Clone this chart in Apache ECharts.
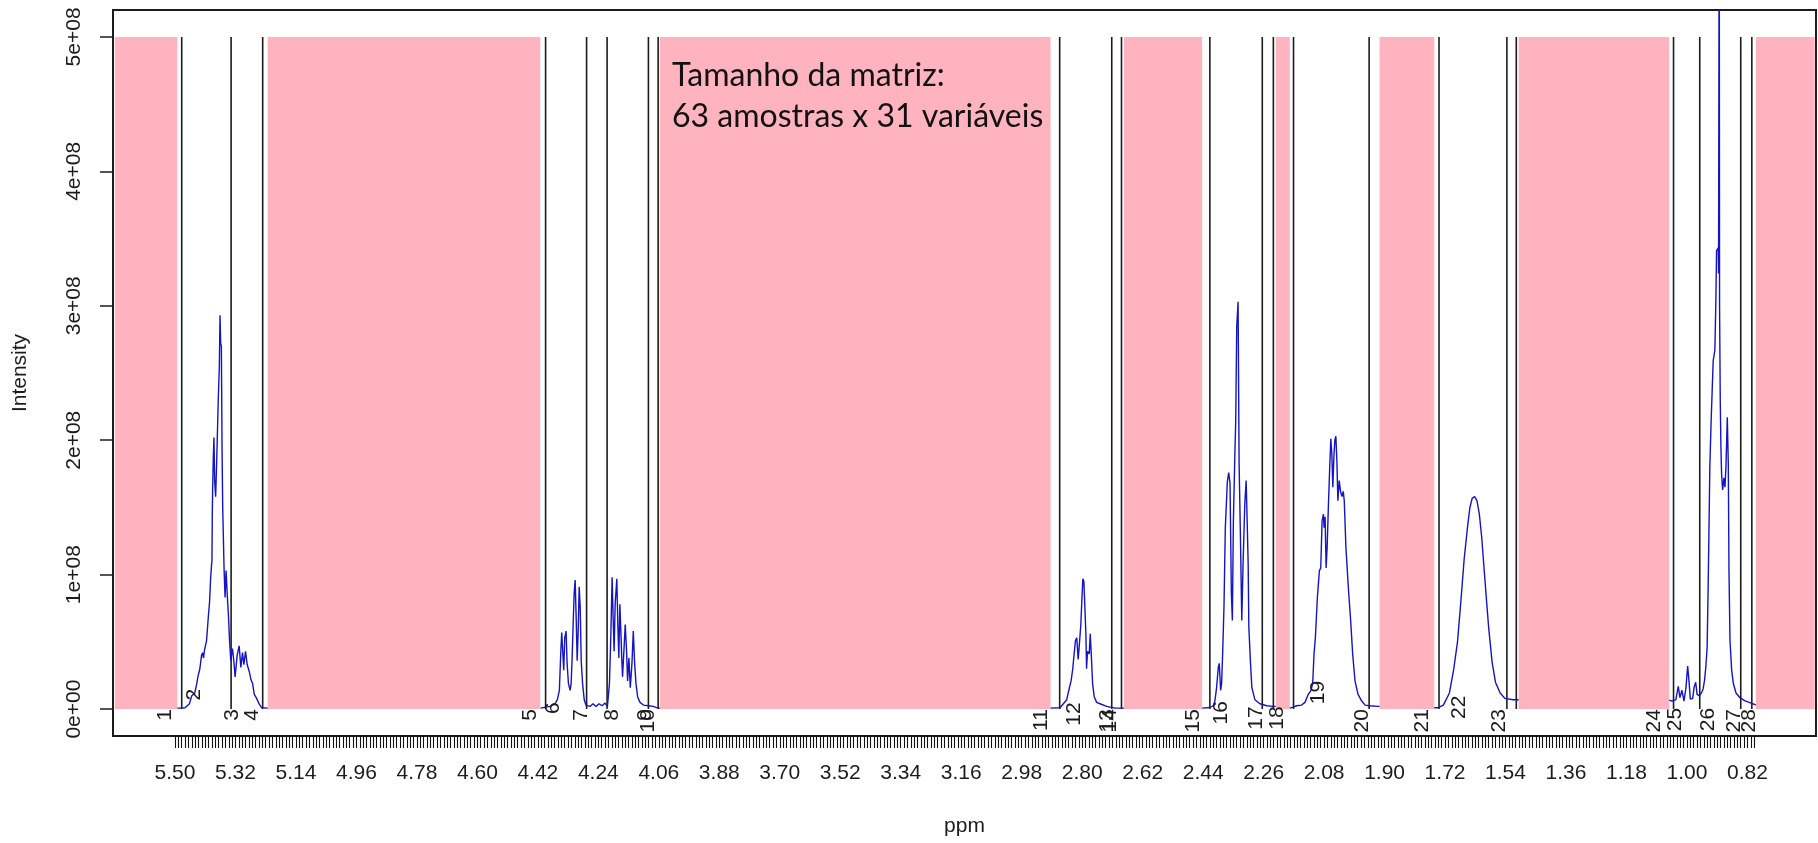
<!DOCTYPE html>
<html>
<head>
<meta charset="utf-8">
<script src="https://cdn.jsdelivr.net/npm/echarts@6/dist/echarts.min.js"></script>
<style>
  html, body { margin: 0; padding: 0; background: #fff; }
  #chart { width: 1818px; height: 843px; }
</style>
</head>
<body>
<div id="chart"></div>
<script>
// ---- Axis tick labels ----
const ppmTickLabels = ['5.50','5.32','5.14','4.96','4.78','4.60','4.42','4.24','4.06','3.88','3.70','3.52','3.34',
  '3.16','2.98','2.80','2.62','2.44','2.26','2.08','1.90','1.72','1.54','1.36','1.18','1.00','0.82'];
const intensityTicks = [0, 1, 2, 3, 4, 5];              // intensity in units of 1e8
const intensityTickLabels = ['0e+00','1e+08','2e+08','3e+08','4e+08','5e+08'];

// ---- Excluded spectral regions [ppm from, ppm to] ----
const excludedRegions = [
  [5.679, 5.493], [5.224, 4.413], [4.057, 2.894], [2.676, 2.443],
  [2.224, 2.182], [1.915, 1.752], [1.501, 1.053], [0.795, 0.620]
];

// ---- Bin boundaries (ppm) ----
const binEdges = [5.480, 5.333, 5.239, 4.397, 4.275, 4.214, 4.091, 4.062, 2.867, 2.712, 2.683,
  2.420, 2.264, 2.231, 2.171, 1.946, 1.738, 1.536, 1.508, 1.040, 0.962, 0.840, 0.807];

// ---- Bin numbers, their ppm position and the intensity their top end sits at ----
const binLabels = ['1','2','3','4','5','6','7','8','9','10','11','12','13','14',
  '15','16','17','18','19','20','21','22','23','24','25','26','27','28'];
const binLabelPpm = [5.528, 5.443, 5.330, 5.271, 4.443, 4.374, 4.290, 4.200, 4.101, 4.092, 2.922, 2.824, 2.727, 2.717,
  2.469, 2.385, 2.283, 2.220, 2.097, 1.967, 1.787, 1.677, 1.560, 1.098, 1.036, 0.938, 0.860, 0.815];
const binLabelLevel = [0, 0.15, 0, 0, 0, 0.05, 0, 0, 0, 0, 0, 0.05, 0, 0,
  0, 0.06, 0.02, 0.02, 0.21, 0, 0, 0.10, 0, 0, 0.01, 0.01, 0, 0];

// ---- Mean spectrum, [ppm, intensity (1e8)] per retained window ----
const specA = [[5.493,0.007],[5.480,0.007],[5.470,0.01],[5.457,0.04],[5.450,0.10],[5.445,0.09],[5.441,0.12],
  [5.436,0.18],[5.431,0.25],[5.426,0.30],[5.421,0.40],[5.418,0.42],[5.415,0.38],[5.412,0.44],[5.406,0.51],
  [5.401,0.68],[5.397,0.80],[5.394,0.97],[5.391,1.08],[5.390,1.10],[5.389,1.45],[5.388,1.63],[5.386,1.87],
  [5.384,2.02],[5.382,1.70],[5.379,1.58],[5.376,1.83],[5.371,2.32],[5.368,2.55],[5.366,2.93],[5.364,2.72],
  [5.362,2.70],[5.360,1.95],[5.358,1.50],[5.354,1.05],[5.351,0.83],[5.348,1.03],[5.344,0.83],[5.341,0.70],
  [5.338,0.53],[5.334,0.36],[5.331,0.42],[5.329,0.45],[5.325,0.36],[5.321,0.24],[5.315,0.40],[5.309,0.47],
  [5.304,0.31],[5.299,0.42],[5.295,0.33],[5.290,0.43],[5.285,0.33],[5.279,0.28],[5.274,0.22],[5.269,0.19],
  [5.264,0.11],[5.257,0.08],[5.250,0.04],[5.242,0.01],[5.224,0.007]];
const specB = [[4.412,0.007],[4.384,0.02],[4.369,0.04],[4.362,0.07],[4.356,0.14],[4.352,0.41],[4.349,0.57],
  [4.346,0.43],[4.343,0.29],[4.340,0.53],[4.336,0.58],[4.333,0.34],[4.329,0.19],[4.324,0.14],[4.321,0.19],
  [4.318,0.38],[4.315,0.63],[4.312,0.86],[4.309,0.96],[4.306,0.68],[4.303,0.36],[4.300,0.58],[4.297,0.91],
  [4.294,0.76],[4.291,0.36],[4.287,0.19],[4.282,0.07],[4.277,0.03],[4.265,0.02],[4.256,0.04],[4.247,0.02],
  [4.238,0.04],[4.229,0.025],[4.220,0.045],[4.213,0.02],[4.207,0.19],[4.203,0.53],[4.199,0.98],[4.196,0.68],
  [4.193,0.43],[4.190,0.78],[4.185,0.97],[4.182,0.63],[4.179,0.38],[4.176,0.78],[4.173,0.58],[4.170,0.36],
  [4.168,0.24],[4.164,0.43],[4.160,0.63],[4.156,0.43],[4.153,0.21],[4.149,0.38],[4.145,0.16],[4.140,0.34],
  [4.136,0.58],[4.132,0.34],[4.128,0.19],[4.123,0.09],[4.116,0.05],[4.106,0.03],[4.091,0.025],[4.077,0.02],
  [4.062,0.007],[4.057,0.007]];
const specC = [[2.894,0.007],[2.866,0.01],[2.856,0.04],[2.846,0.07],[2.838,0.16],[2.833,0.21],[2.828,0.30],
  [2.824,0.41],[2.820,0.51],[2.816,0.53],[2.812,0.37],[2.809,0.46],[2.804,0.63],[2.801,0.81],[2.798,0.97],
  [2.795,0.95],[2.792,0.76],[2.789,0.56],[2.787,0.30],[2.784,0.43],[2.779,0.41],[2.776,0.56],[2.773,0.41],
  [2.769,0.19],[2.764,0.09],[2.757,0.05],[2.747,0.04],[2.727,0.02],[2.702,0.007],[2.676,0.007]];
const specD = [[2.443,0.007],[2.420,0.012],[2.410,0.025],[2.405,0.06],[2.400,0.16],[2.395,0.31],[2.392,0.34],
  [2.388,0.14],[2.385,0.19],[2.382,0.41],[2.378,0.76],[2.374,1.35],[2.368,1.69],[2.364,1.76],[2.360,1.68],
  [2.356,0.86],[2.353,0.66],[2.350,1.40],[2.346,1.85],[2.343,2.15],[2.340,2.85],[2.336,3.03],[2.333,1.83],
  [2.329,1.28],[2.325,0.66],[2.321,1.10],[2.316,1.53],[2.312,1.70],[2.309,1.40],[2.306,1.08],[2.304,0.61],
  [2.299,0.34],[2.295,0.16],[2.286,0.07],[2.271,0.04],[2.251,0.025],[2.232,0.02],[2.224,0.02]];
const specE = [[2.182,0.007],[2.172,0.015],[2.162,0.025],[2.147,0.03],[2.137,0.05],[2.127,0.11],[2.119,0.14],
  [2.114,0.19],[2.110,0.41],[2.106,0.53],[2.100,0.83],[2.094,1.03],[2.090,1.05],[2.086,1.40],[2.082,1.45],
  [2.080,1.35],[2.077,1.43],[2.074,1.05],[2.071,1.20],[2.067,1.53],[2.063,1.82],[2.060,2.01],[2.057,1.90],
  [2.054,1.65],[2.051,1.87],[2.048,2.00],[2.045,2.03],[2.042,1.85],[2.039,1.55],[2.035,1.70],[2.031,1.62],
  [2.027,1.58],[2.023,1.62],[2.020,1.55],[2.015,1.20],[2.008,0.91],[2.001,0.66],[1.995,0.41],[1.988,0.21],
  [1.979,0.11],[1.968,0.06],[1.958,0.03],[1.946,0.025],[1.919,0.02],[1.915,0.02]];
const specF = [[1.752,0.01],[1.742,0.01],[1.725,0.03],[1.707,0.12],[1.694,0.30],[1.683,0.50],[1.673,0.80],
  [1.663,1.12],[1.652,1.38],[1.646,1.50],[1.639,1.57],[1.632,1.58],[1.625,1.55],[1.618,1.45],[1.611,1.28],
  [1.604,1.05],[1.597,0.82],[1.590,0.60],[1.580,0.35],[1.570,0.20],[1.556,0.12],[1.542,0.08],[1.518,0.07],
  [1.501,0.07]];
const specG = [[1.053,0.067],[1.045,0.06],[1.033,0.07],[1.026,0.17],[1.021,0.086],[1.015,0.14],[1.009,0.06],
  [1.003,0.16],[0.998,0.32],[0.994,0.21],[0.990,0.074],[0.983,0.08],[0.979,0.16],[0.974,0.20],[0.970,0.11],
  [0.964,0.10],[0.957,0.12],[0.952,0.15],[0.948,0.21],[0.944,0.31],[0.940,0.46],[0.937,0.91],[0.935,1.25],
  [0.932,1.80],[0.928,2.15],[0.925,2.37],[0.922,2.59],[0.917,2.67],[0.914,3.04],[0.912,3.41],[0.907,3.43],
  [0.906,3.24],[0.904,6.20],[0.903,3.00],[0.901,2.30],[0.899,1.95],[0.897,1.75],[0.894,1.63],[0.890,1.72],
  [0.887,1.65],[0.884,1.80],[0.880,2.17],[0.877,1.82],[0.875,1.03],[0.872,0.51],[0.867,0.29],[0.862,0.19],
  [0.854,0.12],[0.843,0.086],[0.827,0.062],[0.807,0.042],[0.795,0.032]];
const spectrumWindows = [specA, specB, specC, specD, specE, specF, specG];

// ---- Rendering ----
const FONT = '"Liberation Sans", Arial, sans-serif';
const INK = '#1c1c1c';

// dense minor ticks every 0.01 ppm along the labelled range
const minorTicks = [];
for (let k = 550; k >= 80; k--) minorTicks.push(k / 100);

const chart = echarts.init(document.getElementById('chart'), null, { renderer: 'canvas' });

const spectrumSeries = spectrumWindows.map(w => ({
  type: 'line',
  data: w,
  symbol: 'none',
  showSymbol: false,
  clip: true,
  silent: true,
  z: 4,
  lineStyle: { color: '#1414c4', width: 1.4 }
}));

const regionSeries = {
  type: 'custom',
  silent: true,
  z: 2,
  data: excludedRegions.map(r => [r[0], r[1], 0, 5]),
  encode: { x: [0, 1], y: [2, 3] },
  renderItem: function (params, api) {
    const p0 = api.coord([api.value(0), api.value(3)]);
    const p1 = api.coord([api.value(1), api.value(2)]);
    return {
      type: 'rect',
      shape: { x: Math.min(p0[0], p1[0]), y: p0[1], width: Math.abs(p1[0] - p0[0]), height: p1[1] - p0[1] },
      style: { fill: '#ffb3bf' }
    };
  }
};

const edgeSeries = {
  type: 'custom',
  silent: true,
  z: 3,
  data: binEdges.map(v => [v, 0, 5]),
  encode: { x: 0, y: [1, 2] },
  renderItem: function (params, api) {
    const a = api.coord([api.value(0), api.value(1)]);
    const b = api.coord([api.value(0), api.value(2)]);
    return {
      type: 'line',
      shape: { x1: a[0], y1: a[1], x2: b[0], y2: b[1] },
      style: { stroke: INK, lineWidth: 1.6 }
    };
  }
};

const labelSeries = {
  type: 'custom',
  silent: true,
  z: 5,
  clip: false,
  data: binLabels.map((t, i) => [binLabelPpm[i], binLabelLevel[i], i]),
  encode: { x: 0, y: 1 },
  renderItem: function (params, api) {
    const p = api.coord([api.value(0), api.value(1)]);
    return {
      type: 'text',
      x: p[0],
      y: p[1],
      rotation: Math.PI / 2,
      style: {
        text: binLabels[api.value(2)],
        fontSize: 21,
        fontFamily: FONT,
        fill: INK,
        align: 'right',
        verticalAlign: 'middle'
      }
    };
  }
};

chart.setOption({
  animation: false,
  backgroundColor: '#ffffff',
  textStyle: { fontFamily: FONT },
  grid: {
    left: 113, right: 2, top: 10, bottom: 107,
    show: true, borderColor: INK, borderWidth: 2, backgroundColor: 'transparent'
  },
  xAxis: {
    type: 'value',
    inverse: true,
    min: 0.616,
    max: 5.6845,
    name: 'ppm',
    nameLocation: 'middle',
    nameGap: 80,
    nameTextStyle: { fontSize: 21, color: INK, fontFamily: FONT },
    axisLine: { show: false, onZero: false },
    splitLine: { show: false },
    axisTick: { show: true, inside: false, customValues: minorTicks, length: 12, lineStyle: { color: '#111', width: 1.1 } },
    axisLabel: {
      customValues: ppmTickLabels.map(Number),
      formatter: v => v.toFixed(2),
      margin: 27, fontSize: 21, color: INK, fontFamily: FONT
    }
  },
  yAxis: {
    type: 'value',
    min: -0.2,
    max: 5.2,
    name: 'Intensity',
    nameLocation: 'middle',
    nameGap: 82,
    nameTextStyle: { fontSize: 21, color: INK, fontFamily: FONT },
    axisLine: { show: false, onZero: false },
    splitLine: { show: false },
    axisTick: { show: true, inside: false, customValues: intensityTicks, length: 13, lineStyle: { color: INK, width: 1.5 } },
    axisLabel: {
      customValues: intensityTicks,
      formatter: v => intensityTickLabels[intensityTicks.indexOf(Math.round(v))],
      rotate: 90, margin: 28, fontSize: 21, color: INK, fontFamily: FONT
    }
  },
  graphic: [{
    type: 'text',
    left: 672,
    top: 55,
    z: 10,
    style: {
      text: 'Tamanho da matriz:\n63 amostras x 31 variáveis',
      font: '32px Lato',
      fill: '#111',
      lineHeight: 41
    }
  }],
  series: [regionSeries, edgeSeries].concat(spectrumSeries, [labelSeries])
});
</script>
</body>
</html>
